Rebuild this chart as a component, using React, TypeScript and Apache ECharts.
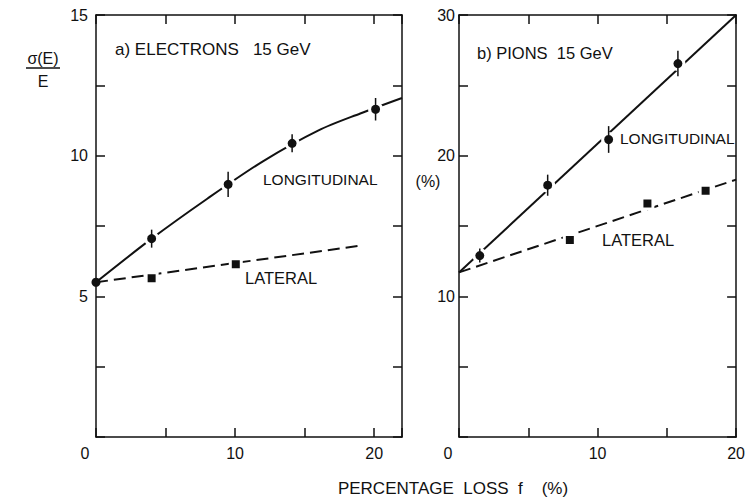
import React, { useEffect, useRef } from 'react';
import * as echarts from 'echarts';

// ---- Panel a) Electrons 15 GeV ----
const elecLongX = [0, 4.0, 9.5, 14.1, 20.1];
const elecLongY = [5.5, 7.05, 8.98, 10.44, 11.65];
const elecLongErr = [0, 0.32, 0.45, 0.32, 0.4];
const elecLatX = [4.0, 10.05];
const elecLatY = [5.64, 6.14];
const elecLongFitX = [0, 4.0, 8, 12, 16, 19, 22];
const elecLongFitY = [5.5, 7.05, 8.47, 9.8, 10.9, 11.5, 12.05];
const elecLatFitX = [0, 19];
const elecLatFitY = [5.5, 6.8];

// ---- Panel b) Pions 15 GeV ----
const pionLongX = [1.5, 6.4, 10.8, 15.8];
const pionLongY = [12.9, 17.9, 21.15, 26.55];
const pionLongErr = [0.5, 0.75, 0.95, 0.9];
const pionLatX = [8.0, 13.6, 17.8];
const pionLatY = [14.0, 16.6, 17.5];
const pionLongFitX = [0, 20];
const pionLongFitY = [11.7, 30];
const pionLatFitX = [0, 20];
const pionLatFitY = [11.7, 18.3];

// ---- Axes ----
const elecXRange = [0, 22];
const elecYRange = [0, 15];
const pionXRange = [0, 20];
const pionYRange = [0, 30];
const elecXLabels = [0, 10, 20];
const elecYLabels = [5, 10, 15];
const pionXLabels = [0, 10, 20];
const pionYLabels = [10, 20, 30];

const FONT = "'Liberation Sans', Arial, sans-serif";
const INK = '#111';

const zip = (xs: number[], ys: number[]) => xs.map((x, i) => [x, ys[i]]);

export default function App() {
  const ref = useRef<HTMLDivElement>(null);
  useEffect(() => {
    if (!ref.current) return;
    const chart = echarts.init(ref.current, null, { renderer: 'svg' });

    const axisLine = { show: true, onZero: false, lineStyle: { color: INK, width: 1.5 } };
    const axisTick = { show: true, inside: true, length: 9, lineStyle: { color: INK, width: 1.5 } };
    const labelStyle = { color: INK, fontFamily: FONT, fontSize: 16 };

    const xFmt = (list: number[]) => (v: number) =>
      v === 0 && list.includes(0) ? '{z|0}' : list.includes(v) ? String(v) : '';
    const yFmt = (list: number[]) => (v: number) => (list.includes(v) ? String(v) : '');

    const mkX = (grid: number, range: number[], pos: string, labels: number[] | null) => ({
      type: 'value',
      gridIndex: grid,
      position: pos,
      min: range[0],
      max: range[1],
      interval: 5,
      axisLine,
      axisTick,
      splitLine: { show: false },
      axisLabel: labels
        ? {
            ...labelStyle,
            margin: 8,
            formatter: xFmt(labels),
            rich: { z: { ...labelStyle, padding: [0, 22, 0, 0] } },
          }
        : { show: false },
    });
    const mkY = (grid: number, range: number[], interval: number, pos: string, labels: number[] | null, margin = 8) => ({
      type: 'value',
      gridIndex: grid,
      position: pos,
      min: range[0],
      max: range[1],
      interval,
      axisLine,
      axisTick,
      splitLine: { show: false },
      axisLabel: labels ? { ...labelStyle, margin, formatter: yFmt(labels) } : { show: false },
    });

    const solid = { color: INK, width: 2, type: 'solid' };
    const dashed = { color: INK, width: 2, type: [12, 6] };

    const errSeries = (xi: number, xs: number[], ys: number[], es: number[]) => ({
      type: 'custom',
      coordinateSystem: 'cartesian2d',
      xAxisIndex: xi,
      yAxisIndex: xi,
      z: 5,
      data: xs.map((x, i) => [x, ys[i], es[i]]).filter((d) => d[2] > 0),
      renderItem: (params: any, api: any) => {
        const x = api.value(0);
        const y = api.value(1);
        const e = api.value(2);
        const p1 = api.coord([x, y - e]);
        const p2 = api.coord([x, y + e]);
        return {
          type: 'line',
          shape: { x1: p1[0], y1: p1[1], x2: p2[0], y2: p2[1] },
          style: { stroke: INK, lineWidth: 1.5 },
        };
      },
    });

    const markStyle = { color: INK, borderColor: '#fff', borderWidth: 3, opacity: 1 };

    const option: any = {
      animation: false,
      backgroundColor: '#fff',
      grid: [
        { left: 96, top: 15, width: 306, height: 422 },
        { left: 459, top: 15, width: 278, height: 422 },
      ],
      xAxis: [
        mkX(0, elecXRange, 'bottom', elecXLabels),
        mkX(0, elecXRange, 'top', null),
        mkX(1, pionXRange, 'bottom', pionXLabels),
        mkX(1, pionXRange, 'top', null),
      ],
      yAxis: [
        mkY(0, elecYRange, 2.5, 'left', elecYLabels, 8),
        mkY(0, elecYRange, 2.5, 'right', null),
        mkY(1, pionYRange, 5, 'left', pionYLabels, 4),
        mkY(1, pionYRange, 5, 'right', null),
      ],
      series: [
        {
          type: 'line', xAxisIndex: 0, yAxisIndex: 0, smooth: 0.3, showSymbol: false,
          lineStyle: solid, data: zip(elecLongFitX, elecLongFitY), z: 2,
        },
        {
          type: 'line', xAxisIndex: 0, yAxisIndex: 0, showSymbol: false,
          lineStyle: dashed, data: zip(elecLatFitX, elecLatFitY), z: 2,
        },
        {
          type: 'line', xAxisIndex: 2, yAxisIndex: 2, showSymbol: false,
          lineStyle: solid, data: zip(pionLongFitX, pionLongFitY), z: 2,
        },
        {
          type: 'line', xAxisIndex: 2, yAxisIndex: 2, showSymbol: false,
          lineStyle: dashed, data: zip(pionLatFitX, pionLatFitY), z: 2,
        },
        {
          type: 'scatter', xAxisIndex: 0, yAxisIndex: 0, symbol: 'circle', symbolSize: 12, z: 3,
          itemStyle: markStyle,
          data: elecLongX.map((x, i) => ({
            value: [x, elecLongY[i]],
            ...(x === 0 ? { symbolSize: 9, itemStyle: { borderWidth: 0 } } : {}),
          })),
        },
        {
          type: 'scatter', xAxisIndex: 0, yAxisIndex: 0, symbol: 'rect', symbolSize: 11, z: 3,
          itemStyle: markStyle, data: zip(elecLatX, elecLatY),
        },
        {
          type: 'scatter', xAxisIndex: 2, yAxisIndex: 2, symbol: 'circle', symbolSize: 12, z: 3,
          itemStyle: markStyle, data: zip(pionLongX, pionLongY),
        },
        {
          type: 'scatter', xAxisIndex: 2, yAxisIndex: 2, symbol: 'rect', symbolSize: 11, z: 3,
          itemStyle: markStyle, data: zip(pionLatX, pionLatY),
        },
        errSeries(0, elecLongX, elecLongY, elecLongErr),
        errSeries(2, pionLongX, pionLongY, pionLongErr),
      ],
      graphic: [
        txt('a) ELECTRONS   15 GeV', 115, 49, 'left', 17),
        txt('LONGITUDINAL', 263, 179, 'left', 15.5),
        txt('LATERAL', 245, 278, 'left', 16.5),
        txt('b) PIONS  15 GeV', 477, 53, 'left', 16.5),
        txt('LONGITUDINAL', 620, 138, 'left', 15.5),
        txt('LATERAL', 602, 240, 'left', 16.5),
        txt('(%)', 428, 181, 'center'),
        txt('σ(E)', 43, 58, 'center'),
        {
          type: 'line',
          shape: { x1: 26, y1: 68, x2: 60, y2: 68 },
          style: { stroke: INK, lineWidth: 1.5 },
        },
        txt('E', 43, 81, 'center'),
        txt('PERCENTAGE  LOSS  f    (%)', 453, 488, 'center', 17),
      ],
    };

    function txt(text: string, x: number, y: number, align: string, size = 16) {
      return {
        type: 'text',
        x,
        y,
        style: {
          text,
          fill: INK,
          font: `${size}px ${FONT}`,
          align,
          verticalAlign: 'middle',
          textAlign: align,
          textVerticalAlign: 'middle',
        },
      };
    }

    chart.setOption(option);
    return () => chart.dispose();
  }, []);

  return (
    <div
      ref={ref}
      style={{ position: 'fixed', left: 0, top: 0, width: 748, height: 498, background: '#fff' }}
    />
  );
}
